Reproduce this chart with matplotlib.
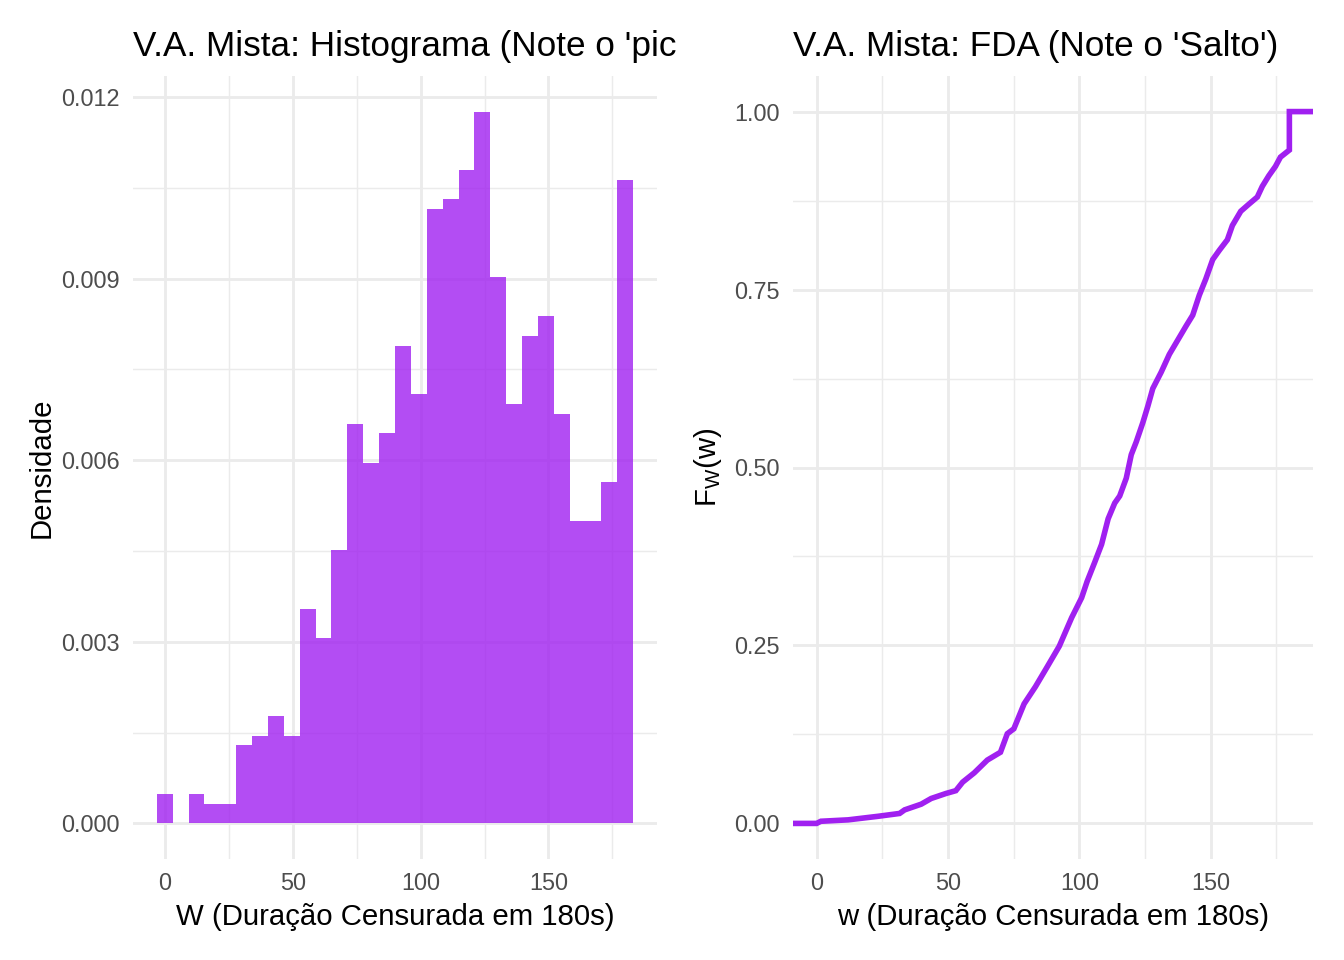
import numpy as np
import matplotlib
matplotlib.use('Agg')
from matplotlib import pyplot as plt
from matplotlib.transforms import Bbox, TransformedBbox
from matplotlib.ticker import MultipleLocator

plt.rcParams['font.family'] = ['Liberation Sans', 'DejaVu Sans']
plt.rcParams['mathtext.default'] = 'regular'

# histograma: 30 classes, n = 1000 (contagens)
edge_min = -3.1034
edge_max = 183.1034
contagens = [3, 0, 3, 2, 2, 8, 9, 11, 9, 22, 19, 28, 41, 37, 40,
             49, 44, 63, 64, 67, 73, 56, 43, 50, 52, 42, 31, 31, 35, 66]
n_total = 1000

fda_w = [0, 1.6, 12, 23.4, 31.6, 33.5, 39.8, 43.6, 49.2, 53, 55.6, 60, 65, 70,
         72.6, 75.1, 79, 83.3, 87.8, 92.4, 97.1, 100.9, 103, 105.9, 108.5, 111,
         113.5, 115.4, 117.9, 119.8, 121.7, 124.2, 126.1, 128, 131.2, 134.3,
         137.5, 140.7, 143.2, 145.7, 148.2, 150.8, 153.3, 156.4, 158.3, 161.5,
         164.6, 167.8, 169.7, 172.2, 174.7, 176.6, 180, 180]
fda_F = [0, 0.003, 0.005, 0.010, 0.014, 0.019, 0.027, 0.035, 0.042, 0.046,
         0.058, 0.071, 0.089, 0.100, 0.126, 0.133, 0.168, 0.192, 0.220, 0.249,
         0.289, 0.317, 0.340, 0.367, 0.392, 0.428, 0.450, 0.460, 0.485, 0.518,
         0.536, 0.563, 0.586, 0.611, 0.634, 0.659, 0.679, 0.699, 0.714, 0.742,
         0.765, 0.792, 0.805, 0.820, 0.840, 0.860, 0.870, 0.880, 0.895, 0.910,
         0.923, 0.936, 0.946, 1.0]

roxo = '#A020F0'
grade = '#EBEBEB'
cinza = '#4D4D4D'

fig = plt.figure(figsize=(7, 5), dpi=192)
W, H = 1344, 960
ax1 = fig.add_axes([133/W, 1-859/H, (657-133)/W, (859-76)/H])
ax2 = fig.add_axes([793/W, 1-859/H, (1313-793)/W, (859-76)/H])

# painel 1
bordas = np.linspace(edge_min, edge_max, len(contagens)+1)
largura = bordas[1]-bordas[0]
dens = np.array(contagens)/(n_total*largura)
ax1.bar(bordas[:-1], dens, width=largura, align='edge', color=roxo, alpha=0.8, linewidth=0, zorder=2)
span = edge_max-edge_min
ax1.set_xlim(edge_min-0.05*span, edge_max+0.05*span)
ymax = dens.max()
ax1.set_ylim(-0.05*ymax, ymax*1.05)
ax1.xaxis.set_major_locator(MultipleLocator(50))
ax1.xaxis.set_minor_locator(MultipleLocator(25))
ax1.yaxis.set_major_locator(MultipleLocator(0.003))
ax1.yaxis.set_minor_locator(MultipleLocator(0.0015))
ax1.yaxis.set_major_formatter(matplotlib.ticker.FormatStrFormatter('%.3f'))
ax1.set_xlabel('W (Duração Censurada em 180s)', fontsize=11, labelpad=3)
ax1.set_ylabel('Densidade', fontsize=11, labelpad=2)
# titulo cortado na borda do painel esquerdo, como no original
t1 = ax1.set_title("V.A. Mista: Histograma (Note o 'pico' em 180s)", loc='left', fontsize=13.2, pad=7.5)
t1.set_clip_box(TransformedBbox(Bbox.from_extents(0, 0, 676/W, 1), fig.transFigure))
t1.set_clip_on(True)

# painel 2
ax2.set_xlim(-9, 189)
ax2.set_ylim(-0.05, 1.05)
xl = ax2.get_xlim()
ax2.plot([xl[0]] + fda_w + [xl[1]], [fda_F[0]] + fda_F + [fda_F[-1]], color=roxo, lw=2.1, zorder=3, solid_joinstyle='miter')
ax2.xaxis.set_major_locator(MultipleLocator(50))
ax2.xaxis.set_minor_locator(MultipleLocator(25))
ax2.yaxis.set_major_locator(MultipleLocator(0.25))
ax2.yaxis.set_minor_locator(MultipleLocator(0.125))
ax2.yaxis.set_major_formatter(matplotlib.ticker.FormatStrFormatter('%.2f'))
ax2.set_xlabel('w (Duração Censurada em 180s)', fontsize=11, labelpad=3)
ax2.set_ylabel(r'$F_W(w)$', fontsize=11, labelpad=4)
ax2.set_title("V.A. Mista: FDA (Note o 'Salto')", loc='left', fontsize=13.2, pad=7.5)

for ax in (ax1, ax2):
    for s in ax.spines.values():
        s.set_visible(False)
    ax.tick_params(which='both', length=0, labelsize=8.8, labelcolor=cinza, pad=5)
    ax.grid(True, which='major', color=grade, lw=1.07, zorder=0)
    ax.grid(True, which='minor', color=grade, lw=0.53, zorder=0)
    ax.set_axisbelow(True)

fig.savefig('out.png', dpi=192, facecolor='white')
